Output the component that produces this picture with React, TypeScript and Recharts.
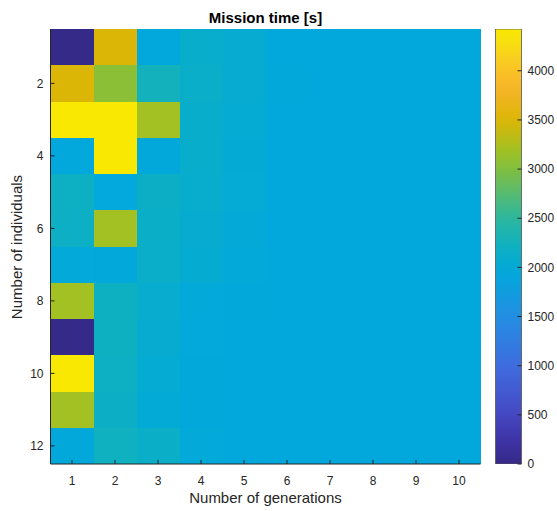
import React from 'react';
import { BarChart, Bar, XAxis, YAxis, Cell } from 'recharts';

// ---- data ----
const generations = ['1', '2', '3', '4', '5', '6', '7', '8', '9', '10'];
const individuals = [1, 2, 3, 4, 5, 6, 7, 8, 9, 10, 11, 12];
const xTicks = [1, 2, 3, 4, 5, 6, 7, 8, 9, 10];
const yTickLabels = [2, 4, 6, 8, 10, 12];
const cbarTicks = [0, 500, 1000, 1500, 2000, 2500, 3000, 3500, 4000];

// mission time [s], rows = number of individuals (1..12), cols = number of generations (1..10)
const row1 = [0, 3500, 1950, 2100, 2050, 1950, 1950, 1950, 1950, 1950];
const row2 = [3500, 3060, 2250, 2140, 2050, 1960, 1950, 1950, 1950, 1950];
const row3 = [4425, 4425, 3200, 2100, 2030, 1950, 1950, 1950, 1950, 1950];
const row4 = [1950, 4425, 1960, 2100, 2020, 1950, 1950, 1950, 1950, 1950];
const row5 = [2190, 1940, 2160, 2090, 2010, 1950, 1950, 1950, 1950, 1950];
const row6 = [2170, 3200, 2150, 2060, 1990, 1950, 1950, 1950, 1950, 1950];
const row7 = [1980, 1960, 2130, 2040, 1980, 1950, 1950, 1950, 1950, 1950];
const row8 = [3200, 2200, 2080, 1980, 1960, 1950, 1950, 1950, 1950, 1950];
const row9 = [0, 2200, 2060, 1970, 1950, 1950, 1950, 1950, 1950, 1950];
const row10 = [4425, 2180, 2030, 1960, 1950, 1950, 1950, 1950, 1950, 1950];
const row11 = [3200, 2160, 2000, 1960, 1950, 1950, 1950, 1950, 1950, 1950];
const row12 = [1960, 2220, 2150, 1980, 1950, 1950, 1950, 1950, 1950, 1950];
const missionTime = [row1, row2, row3, row4, row5, row6, row7, row8, row9, row10, row11, row12];

const C_MIN = 0;
const C_MAX = Math.max(...missionTime.map((r) => Math.max(...r)));

// ---- colormap (parula-like, as printed) ----
const CMAP: [number, number, number, number][] = [
  [0.0, 53, 42, 135],
  [0.06, 62, 52, 168],
  [0.113, 70, 72, 195],
  [0.226, 62, 108, 222],
  [0.34, 35, 142, 226],
  [0.44, 2, 168, 220],
  [0.5, 14, 176, 192],
  [0.565, 45, 183, 160],
  [0.68, 130, 190, 62],
  [0.72, 160, 193, 35],
  [0.79, 220, 182, 6],
  [0.86, 245, 180, 40],
  [0.91, 250, 195, 38],
  [0.96, 248, 220, 20],
  [1.0, 248, 232, 2],
];

function cmapAt(t: number): string {
  const tt = Math.max(0, Math.min(1, t));
  for (let i = 1; i < CMAP.length; i++) {
    const a = CMAP[i - 1];
    const b = CMAP[i];
    if (tt <= b[0]) {
      const f = (tt - a[0]) / (b[0] - a[0] || 1);
      const r = Math.round(a[1] + (b[1] - a[1]) * f);
      const g = Math.round(a[2] + (b[2] - a[2]) * f);
      const bb = Math.round(a[3] + (b[3] - a[3]) * f);
      return `rgb(${r},${g},${bb})`;
    }
  }
  const l = CMAP[CMAP.length - 1];
  return `rgb(${l[1]},${l[2]},${l[3]})`;
}
const colorFor = (v: number) => cmapAt((v - C_MIN) / (C_MAX - C_MIN));

// table for recharts: one category per generation, one stacked unit cell per individual row
const chartData = generations.map((g) => {
  const o: Record<string, any> = { gen: g };
  individuals.forEach((n) => {
    o[`r${n}`] = 1;
  });
  return o;
});
const cbarData = [{ k: 'cb', v: C_MAX }];

// ---- styles ----
const FONT = '"Liberation Sans", Arial, Helvetica, sans-serif';
const INK = '#262626';
const TICK_LEN = 4;
const BOTTOM_MARGIN = 12;
const LEFT_MARGIN = 7;
const CB_MARGIN = 6;

const BottomTick = (p: any) => {
  const { x, y, payload } = p;
  const ay = y - BOTTOM_MARGIN;
  return (
    <g>
      <line x1={x} x2={x} y1={ay} y2={ay - TICK_LEN} stroke={INK} strokeWidth={1} />
      <text x={x} y={y} dy="0.71em" textAnchor="middle" fontSize={12} fill={INK} fontFamily={FONT}>
        {payload.value}
      </text>
    </g>
  );
};

const TopTick = (p: any) => {
  const { x, y } = p;
  return <line x1={x} x2={x} y1={y} y2={y + TICK_LEN} stroke={INK} strokeWidth={1} />;
};

const LeftTick = (p: any) => {
  const { x, y, payload } = p;
  const ax = x + LEFT_MARGIN;
  return (
    <g>
      <line x1={ax} x2={ax + TICK_LEN} y1={y} y2={y} stroke={INK} strokeWidth={1} />
      <text x={x} y={y} dy="0.355em" textAnchor="end" fontSize={12} fill={INK} fontFamily={FONT}>
        {String(payload.value + 0.5)}
      </text>
    </g>
  );
};

const RightTick = (p: any) => {
  const { x, y } = p;
  return <line x1={x} x2={x - TICK_LEN} y1={y} y2={y} stroke={INK} strokeWidth={1} />;
};

const CbarTick = (p: any) => {
  const { x, y, payload } = p;
  const ax = x - CB_MARGIN;
  return (
    <g>
      <line x1={ax} x2={ax - TICK_LEN} y1={y} y2={y} stroke={INK} strokeWidth={1} />
      <text x={x} y={y} dy="0.355em" textAnchor="start" fontSize={12} fill={INK} fontFamily={FONT}>
        {payload.value}
      </text>
    </g>
  );
};

// plot box: x 50.5 -> 480.5, y 29 -> 464
const W = 557;
const H = 511;

export default function App() {
  return (
    <div style={{ position: 'absolute', left: 0, top: 0, width: W, height: H, background: '#fff', fontFamily: FONT }}>
      <div style={{ position: 'absolute', left: 0, top: 0 }}>
        <BarChart
          width={W}
          height={H}
          data={chartData}
          margin={{ top: 29, left: 10.5, right: 76.5, bottom: 17 }}
          barCategoryGap={0}
          barGap={0}
        >
          {individuals.map((n, ri) => (
            <Bar key={n} dataKey={`r${n}`} stackId="cells" isAnimationActive={false}>
              {generations.map((g, ci) => {
                const c = colorFor(missionTime[ri][ci]);
                return <Cell key={g} fill={c} stroke="none" shapeRendering="crispEdges" />;
              })}
            </Bar>
          ))}
          <XAxis
            dataKey="gen"
            type="category"
            height={30}
            interval={0}
            tickSize={0}
            tickMargin={BOTTOM_MARGIN}
            tickLine={false}
            axisLine={{ stroke: INK, strokeWidth: 1 }}
            tick={(p: any) => <BottomTick {...p} />}
          />
          <XAxis
            xAxisId="top"
            orientation="top"
            type="number"
            domain={[0.5, 10.5]}
            allowDataOverflow
            ticks={xTicks}
            interval={0}
            height={0}
            tickSize={0}
            tickMargin={0}
            tickLine={false}
            axisLine={{ stroke: INK, strokeWidth: 1 }}
            tick={(p: any) => <TopTick {...p} />}
          />
          <YAxis
            type="number"
            domain={[0, 12]}
            reversed
            allowDataOverflow
            ticks={yTickLabels.map((v) => v - 0.5)}
            interval={0}
            width={40}
            tickSize={0}
            tickMargin={LEFT_MARGIN}
            tickLine={false}
            axisLine={{ stroke: INK, strokeWidth: 1 }}
            tick={(p: any) => <LeftTick {...p} />}
          />
          <YAxis
            yAxisId="right"
            orientation="right"
            type="number"
            domain={[0, 12]}
            reversed
            allowDataOverflow
            ticks={yTickLabels.map((v) => v - 0.5)}
            interval={0}
            width={0}
            tickSize={0}
            tickMargin={0}
            tickLine={false}
            axisLine={{ stroke: INK, strokeWidth: 1 }}
            tick={(p: any) => <RightTick {...p} />}
          />
        </BarChart>
      </div>
      <div style={{ position: 'absolute', left: 0, top: 0 }}>
        <BarChart
          width={W}
          height={H}
          data={cbarData}
          margin={{ top: 29, left: 495.5, right: 0.5, bottom: 47 }}
          barCategoryGap={0}
        >
          <defs>
            <linearGradient id="parulaGrad" x1="0" y1="1" x2="0" y2="0">
              {Array.from({ length: 41 }, (_, i) => i / 40).map((t) => (
                <stop key={t} offset={`${t * 100}%`} stopColor={cmapAt(t)} />
              ))}
            </linearGradient>
          </defs>
          <XAxis dataKey="k" hide />
          <YAxis
            orientation="right"
            type="number"
            domain={[C_MIN, C_MAX]}
            allowDataOverflow
            ticks={cbarTicks}
            interval={0}
            width={35}
            tickSize={0}
            tickMargin={CB_MARGIN}
            tickLine={false}
            axisLine={false}
            tick={(p: any) => <CbarTick {...p} />}
          />
          <Bar dataKey="v" fill="url(#parulaGrad)" stroke="#555" strokeWidth={0.8} isAnimationActive={false} />
        </BarChart>
      </div>
      <div
        style={{
          position: 'absolute',
          left: 50.5,
          width: 430,
          top: 9.5,
          textAlign: 'center',
          fontSize: 15,
          lineHeight: '16px',
          fontWeight: 'bold',
          color: '#000',
          whiteSpace: 'nowrap',
        }}
      >
        Mission time [s]
      </div>
      <div
        style={{
          position: 'absolute',
          left: 50.5,
          width: 430,
          top: 490,
          textAlign: 'center',
          fontSize: 15,
          lineHeight: '16px',
          color: INK,
          whiteSpace: 'nowrap',
        }}
      >
        Number of generations
      </div>
      <div
        style={{
          position: 'absolute',
          left: 16.5 - 200,
          width: 400,
          top: 246.5 - 8,
          textAlign: 'center',
          fontSize: 15,
          lineHeight: '16px',
          color: INK,
          whiteSpace: 'nowrap',
          transform: 'rotate(-90deg)',
          transformOrigin: '200px 8px',
        }}
      >
        Number of individuals
      </div>
    </div>
  );
}
